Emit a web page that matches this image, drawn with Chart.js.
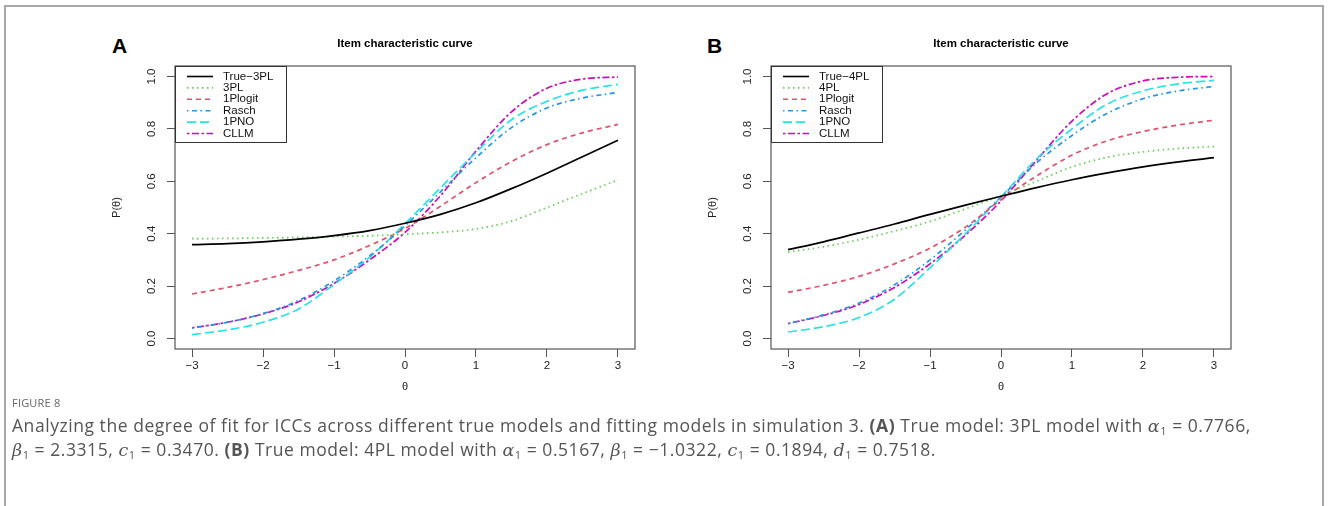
<!DOCTYPE html>
<html>
<head>
<meta charset="utf-8">
<script src="https://cdn.jsdelivr.net/npm/chart.js@4.4.0/dist/chart.umd.min.js"></script>
<style>
	html, body { margin: 0; padding: 0; background: #fff; }
	body { width: 1328px; height: 506px; position: relative; overflow: hidden; }
	.frame { position: absolute; left: 4px; top: 5px; width: 1320px; height: 540px; border: 2px solid #a8a8a8; box-sizing: border-box; }
	.panel { position: absolute; top: 30px; width: 560px; height: 380px; }
	.tag { position: absolute; top: 34px; font: bold 21px "Liberation Sans", Arial, sans-serif; color: #000; }
	.caption { position: absolute; left: 12px; top: 395px; width: 1300px; font-family: "Open Sans", sans-serif; color: #555; }
	.caption .fig { font-size: 11px; line-height: 15px; letter-spacing: 0.2px; color: #666; margin-bottom: 4px; }
	.caption .txt { font-size: 17.5px; line-height: 23px; letter-spacing: 0.55px; white-space: nowrap; }
	.caption i { font-family: "DejaVu Serif", serif; }
	.caption sub { font-size: 11px; vertical-align: -3px; line-height: 0; }
</style>
</head>
<body>
<div class="frame"></div>
<div class="tag" style="left:112px">A</div>
<div class="tag" style="left:707px">B</div>
<div class="panel" style="left:100px"><canvas id="chartA" width="560" height="380"></canvas></div>
<div class="panel" style="left:696px"><canvas id="chartB" width="560" height="380"></canvas></div>
<div class="caption">
	<div class="fig">FIGURE 8</div>
	<div class="txt">Analyzing the degree of fit for ICCs across different true models and fitting models in simulation 3. <b>(A)</b> True model: 3PL model with <i>α</i><sub>1</sub> = 0.7766,<br><i>β</i><sub>1</sub> = 2.3315, <i>c</i><sub>1</sub> = 0.3470. <b>(B)</b> True model: 4PL model with <i>α</i><sub>1</sub> = 0.5167, <i>β</i><sub>1</sub> = −1.0322, <i>c</i><sub>1</sub> = 0.1894, <i>d</i><sub>1</sub> = 0.7518.</div>
</div>
<script>
// theta grid
var theta = [-3, -2.5, -2, -1.5, -1, -0.5, 0, 0.5, 1, 1.5, 2, 2.5, 3];
var xTicks = [-3, -2, -1, 0, 1, 2, 3];
var xTickLabels = ['\u22123', '\u22122', '\u22121', '0', '1', '2', '3'];
var yTicks = [0, 0.2, 0.4, 0.6, 0.8, 1.0];
var yTickLabels = ['0.0', '0.2', '0.4', '0.6', '0.8', '1.0'];

// panel A - true model 3PL
var labelsA = ['True\u22123PL', '3PL', '1Plogit', 'Rasch', '1PNO', 'CLLM'];
var true3PL   = [0.358, 0.362, 0.369, 0.379, 0.393, 0.412, 0.440, 0.474, 0.518, 0.572, 0.631, 0.694, 0.757];
var fit3PL    = [0.381, 0.382, 0.384, 0.386, 0.389, 0.392, 0.398, 0.405, 0.418, 0.448, 0.500, 0.553, 0.605];
var plogitA   = [0.170, 0.195, 0.225, 0.260, 0.300, 0.355, 0.420, 0.505, 0.595, 0.675, 0.740, 0.785, 0.817];
var raschA    = [0.040, 0.062, 0.095, 0.145, 0.220, 0.315, 0.430, 0.560, 0.690, 0.805, 0.880, 0.918, 0.939];
var pnoA      = [0.015, 0.033, 0.062, 0.113, 0.206, 0.310, 0.438, 0.575, 0.710, 0.835, 0.905, 0.948, 0.970];
var cllmA     = [0.041, 0.062, 0.094, 0.140, 0.210, 0.300, 0.405, 0.545, 0.715, 0.865, 0.955, 0.990, 0.998];

// panel B - true model 4PL
var labelsB = ['True\u22124PL', '4PL', '1Plogit', 'Rasch', '1PNO', 'CLLM'];
var true4PL   = [0.339, 0.369, 0.403, 0.437, 0.474, 0.509, 0.543, 0.576, 0.606, 0.632, 0.655, 0.674, 0.690];
var fit4PL    = [0.330, 0.350, 0.377, 0.410, 0.447, 0.495, 0.545, 0.600, 0.655, 0.692, 0.712, 0.725, 0.733];
var plogitB   = [0.176, 0.203, 0.237, 0.285, 0.345, 0.425, 0.530, 0.620, 0.700, 0.755, 0.790, 0.815, 0.833];
var raschB    = [0.057, 0.090, 0.135, 0.205, 0.300, 0.415, 0.540, 0.670, 0.775, 0.860, 0.915, 0.945, 0.962];
var pnoB      = [0.025, 0.045, 0.080, 0.150, 0.270, 0.400, 0.540, 0.685, 0.800, 0.895, 0.945, 0.972, 0.985];
var cllmB     = [0.057, 0.088, 0.130, 0.195, 0.285, 0.395, 0.525, 0.680, 0.830, 0.935, 0.983, 0.997, 1.000];

// R default palette + lty 1..6
var styles = [
	{ color: '#000000', dash: [] },
	{ color: '#61D04F', dash: [1.5, 3.5] },
	{ color: '#DF536B', dash: [5, 4] },
	{ color: '#2297E6', dash: [1.5, 3.5, 5, 3.5] },
	{ color: '#28E2E5', dash: [9, 4] },
	{ color: '#CD0BBC', dash: [2.5, 2.5, 7, 2.5] }
];

var FONT = '"Liberation Sans", Arial, sans-serif';

function toPoints(values) {
	return values.map(function(v, i) { return { x: theta[i], y: v }; });
}

function buildDatasets(labels, series) {
	return series.map(function(values, i) {
		return {
			label: labels[i],
			data: toPoints(values),
			borderColor: styles[i].color,
			borderDash: styles[i].dash,
			borderWidth: 1.7,
			pointRadius: 0,
			fill: false,
			cubicInterpolationMode: 'monotone'
		};
	});
}

// box, rotated y labels and R-like legend
var rStylePlugin = {
	id: 'rStyle',
	afterDraw: function(chart) {
		var ctx = chart.ctx;
		var area = chart.chartArea;
		var yScale = chart.scales.y;

		ctx.save();
		ctx.strokeStyle = '#555';
		ctx.lineWidth = 1.2;
		ctx.strokeRect(area.left, area.top, area.right - area.left, area.bottom - area.top);

		ctx.fillStyle = '#222';
		ctx.font = '11.5px ' + FONT;
		ctx.textAlign = 'center';
		ctx.textBaseline = 'middle';
		yTicks.forEach(function(v, i) {
			ctx.save();
			ctx.translate(area.left - 23, yScale.getPixelForValue(v));
			ctx.rotate(-Math.PI / 2);
			ctx.fillText(yTickLabels[i], 0, 0);
			ctx.restore();
		});

		// legend
		var lx = area.left, ly = area.top;
		ctx.fillStyle = '#fff';
		ctx.fillRect(lx, ly, 111, 76);
		ctx.strokeStyle = '#333';
		ctx.lineWidth = 1;
		ctx.strokeRect(lx + 0.5, ly + 0.5, 111, 76);
		ctx.textAlign = 'left';
		chart.data.datasets.forEach(function(ds, i) {
			var y = ly + 10.5 + i * 11.4;
			ctx.beginPath();
			ctx.strokeStyle = ds.borderColor;
			ctx.lineWidth = 1.6;
			ctx.setLineDash(ds.borderDash);
			ctx.moveTo(lx + 12, y);
			ctx.lineTo(lx + 38, y);
			ctx.stroke();
			ctx.setLineDash([]);
			ctx.fillStyle = '#111';
			ctx.fillText(ds.label, lx + 48, y);
		});
		ctx.restore();
	}
};

function makeChart(canvasId, labels, series) {
	var ctx = document.getElementById(canvasId).getContext('2d');
	return new Chart(ctx, {
		type: 'line',
		data: { datasets: buildDatasets(labels, series) },
		plugins: [rStylePlugin],
		options: {
			responsive: false,
			animation: false,
			layout: { padding: { left: 0, top: 0, right: 25, bottom: 0 } },
			plugins: {
				legend: { display: false },
				tooltip: { enabled: false },
				title: {
					display: true,
					text: 'Item characteristic curve',
					fullSize: false,
					color: '#000',
					font: { family: FONT, size: 11.5, weight: 'bold', lineHeight: 1.2 },
					padding: { top: 7, bottom: 15.2 }
				}
			},
			scales: {
				x: {
					type: 'linear',
					min: -3.24,
					max: 3.24,
					afterBuildTicks: function(scale) {
						scale.ticks = xTicks.map(function(v) { return { value: v }; });
					},
					afterFit: function(scale) { scale.height = 61; },
					border: { display: false },
					grid: { drawOnChartArea: false, drawTicks: true, tickLength: 8, color: '#555', lineWidth: 1 },
					ticks: {
						color: '#222',
						padding: 2,
						maxRotation: 0,
						font: { family: FONT, size: 11.5 },
						callback: function(value) { return xTickLabels[xTicks.indexOf(value)]; }
					},
					title: {
						display: true,
						text: '\u03b8',
						color: '#222',
						font: { family: FONT, size: 11 },
						padding: { top: 0, bottom: 16 }
					}
				},
				y: {
					type: 'linear',
					min: -0.04,
					max: 1.04,
					afterBuildTicks: function(scale) {
						scale.ticks = yTicks.map(function(v) { return { value: v }; });
					},
					afterFit: function(scale) { scale.width = 75; },
					border: { display: false },
					grid: { drawOnChartArea: false, drawTicks: true, tickLength: 8, color: '#555', lineWidth: 1 },
					ticks: { display: false },
					title: {
						display: true,
						text: 'P(\u03b8)',
						color: '#222',
						font: { family: FONT, size: 11 },
						padding: { top: 10.5, bottom: 0 }
					}
				}
			}
		}
	});
}

makeChart('chartA', labelsA, [true3PL, fit3PL, plogitA, raschA, pnoA, cllmA]);
makeChart('chartB', labelsB, [true4PL, fit4PL, plogitB, raschB, pnoB, cllmB]);
</script>
</body>
</html>
